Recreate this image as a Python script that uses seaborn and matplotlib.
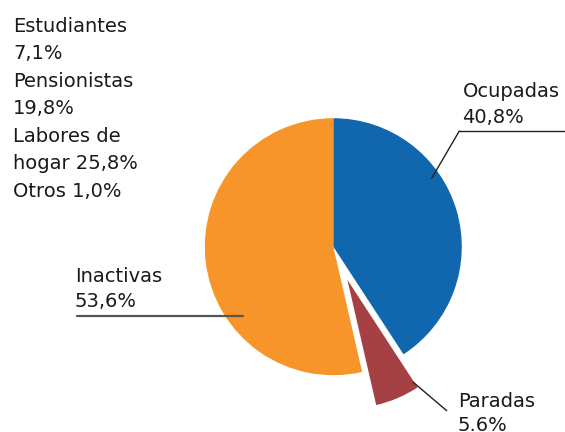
import matplotlib
matplotlib.use("Agg")
import matplotlib.pyplot as plt
import seaborn as sns

# ---- data ----
categories = ["Ocupadas", "Paradas", "Inactivas"]
values = [40.8, 5.6, 53.6]
value_labels = ["40,8%", "5.6%", "53,6%"]
inactive_breakdown = ["Estudiantes", "7,1%", "Pensionistas", "19,8%",
                      "Labores de", "hogar 25,8%", "Otros 1,0%"]
colors = ["#1167ad", "#a54045", "#f7952a"]

sns.set_theme(style="white")
plt.rcParams["font.family"] = ["DejaVu Sans"]

W, H = 565, 432
fig = plt.figure(figsize=(W / 100, H / 100), dpi=100)
ax = fig.add_axes([0, 0, 1, 1])

cx, cy, r = 333.3, H - 246.7, 128.5
# explode offset is in data units (pixels here)
ax.pie(values, colors=colors, startangle=90, counterclock=False,
       explode=[0, 0.28 * r, 0], radius=r, center=(cx, cy),
       wedgeprops=dict(linewidth=0), frame=False)
ax.set_xlim(0, W)
ax.set_ylim(0, H)
ax.set_aspect("equal", adjustable="box")
ax.axis("off")

fs = 14
tc = "#1a1a1a"

def txt(x, y_px, s):
    ax.text(x, H - y_px, s, fontsize=fs, color=tc, ha="left", va="baseline")

# left block
for i, line in enumerate(inactive_breakdown):
    txt(13, 31.7 + i * 27.5, line)

# Ocupadas
txt(462.5, 96.7, categories[0])
txt(462.5, 123.3, value_labels[0])
ax.plot([459.3, 565], [H - 131, H - 131], color="#222222", lw=1.0)
ax.plot([459.3, 431.7], [H - 131, H - 178.3], color="#222222", lw=1.0)

# Paradas
txt(457.7, 406.7, categories[1])
txt(457.7, 431.0, value_labels[1])
ax.plot([413.3, 446.7], [H - 382.3, H - 410.7], color="#222222", lw=1.0)

# Inactivas
txt(75, 281.7, categories[2])
txt(75, 306.7, value_labels[2])
ax.plot([76.7, 243.3], [H - 315.7, H - 315.7], color="#555555", lw=1.6)

fig.savefig("out.png", dpi=100)
